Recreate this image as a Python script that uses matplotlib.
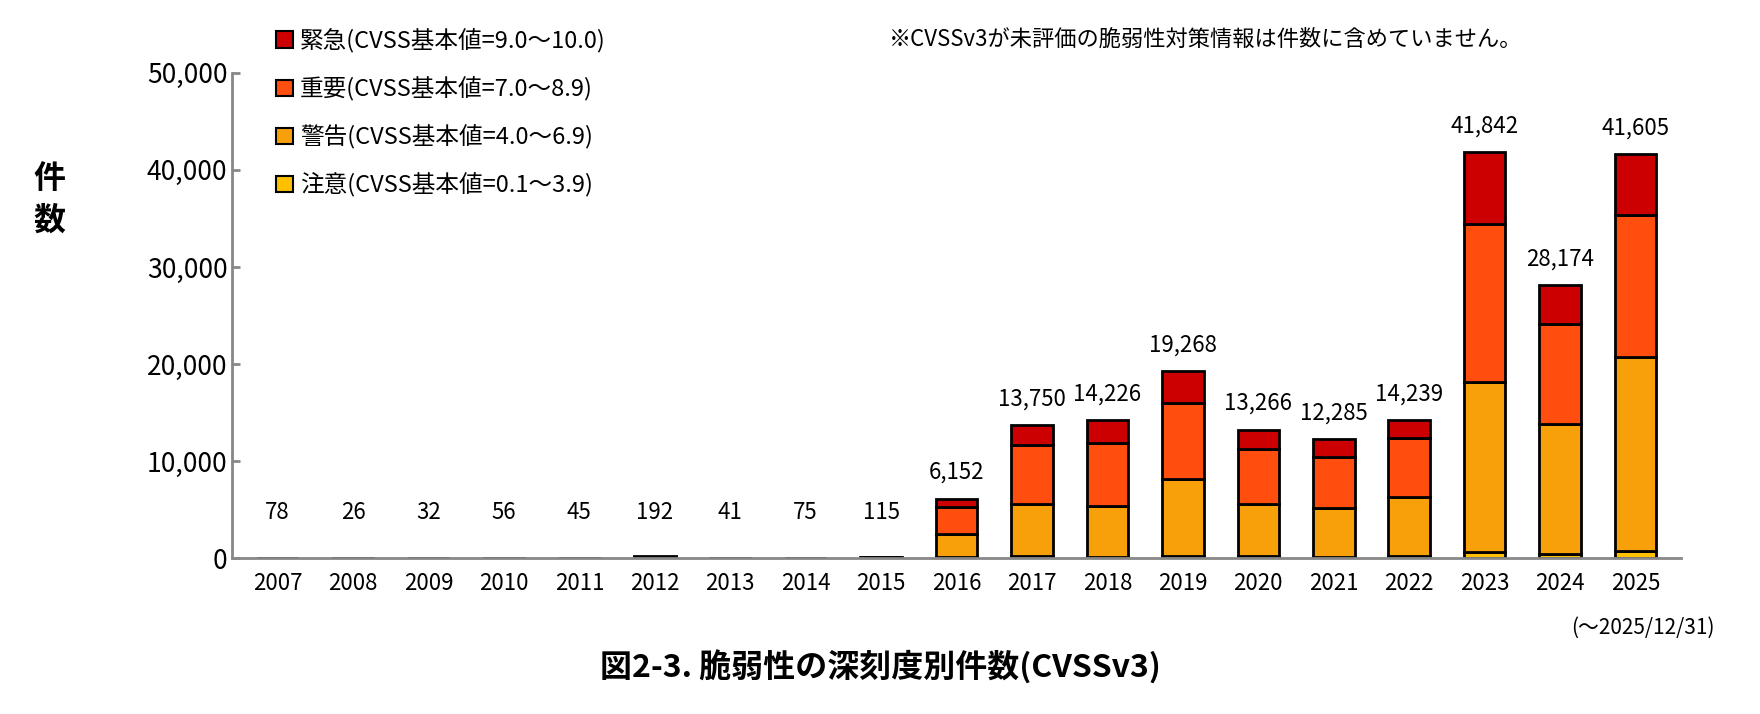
import matplotlib
matplotlib.use("Agg")
import matplotlib.pyplot as plt
import numpy as np
from matplotlib.patches import Patch

plt.rcParams['font.family'] = ['Noto Sans CJK JP', 'DejaVu Sans']

years = ['2007','2008','2009','2010','2011','2012','2013','2014','2015','2016','2017','2018','2019','2020','2021','2022','2023','2024','2025']
totals = [78,26,32,56,45,192,41,75,115,6152,13750,14226,19268,13266,12285,14239,41842,28174,41605]
low = [5,2,2,4,3,10,3,5,8,150,200,180,250,200,180,220,650,480,720]
medium = [40,14,16,28,22,100,20,38,60,2310,5420,5210,7950,5420,4970,6100,17500,13340,20010]
high = [25,7,10,18,14,60,13,25,35,2810,6090,6440,7840,5620,5270,6090,16280,10300,14630]
critical = [t - l - m - h for t, l, m, h in zip(totals, low, medium, high)]

labels = ['緊急(CVSS基本値=9.0～10.0)', '重要(CVSS基本値=7.0～8.9)',
          '警告(CVSS基本値=4.0～6.9)', '注意(CVSS基本値=0.1～3.9)']
colors = ['#CC0000', '#FF4E0E', '#F8A00A', '#FFC000']

fig = plt.figure(figsize=(17.6, 7.14), dpi=100)
ax = fig.add_axes([0.132, 0.218, 0.823, 0.68])
x = np.arange(len(years))
w = 0.55
bottom = np.zeros(len(years))
for vals, c in zip([low, medium, high, critical], colors[::-1]):
    ax.bar(x, vals, w, bottom=bottom, color=c, edgecolor='black', linewidth=2)
    bottom += np.array(vals)

for xi, t in zip(x, totals):
    y = t + 1500 if t > 1000 else 3500
    ax.text(xi, y, f'{t:,}', ha='center', va='bottom', fontsize=16)

ax.set_ylim(0, 50000)
ax.set_xlim(-0.6, len(years) - 0.4)
ax.set_yticks(range(0, 50001, 10000))
ax.set_yticklabels([f'{v:,}' for v in range(0, 50001, 10000)], fontsize=19)
ax.set_xticks(x)
ax.set_xticklabels(years, fontsize=16)
ax.text(x[-1] + 0.1, -0.12, '(～2025/12/31)', transform=ax.get_xaxis_transform(),
        ha='center', va='top', fontsize=15)
for s in ['top', 'right']:
    ax.spines[s].set_visible(False)
for s in ['left', 'bottom']:
    ax.spines[s].set_color('#888888')
    ax.spines[s].set_linewidth(2)
ax.tick_params(axis='y', color='#888888', width=2, length=6, direction='in')
ax.tick_params(axis='x', length=0, pad=10)

fig.text(0.028, 0.72, '件\n数', fontsize=23, fontweight='bold', ha='center', va='center', linespacing=1.4)

handles = [Patch(facecolor=c, edgecolor='black', linewidth=1.5) for c in colors]
fig.legend(handles, labels, loc='upper left', bbox_to_anchor=(0.145, 0.99), frameon=False,
           fontsize=17, handlelength=0.7, handleheight=0.7, handletextpad=0.3, labelspacing=1.0)

fig.text(0.505, 0.945, '※CVSSv3が未評価の脆弱性対策情報は件数に含めていません。', fontsize=16, ha='left', va='center')
fig.text(0.5, 0.065, '図2-3. 脆弱性の深刻度別件数(CVSSv3)', fontsize=23, fontweight='bold', ha='center', va='center')

fig.savefig('out.png', dpi=100)
